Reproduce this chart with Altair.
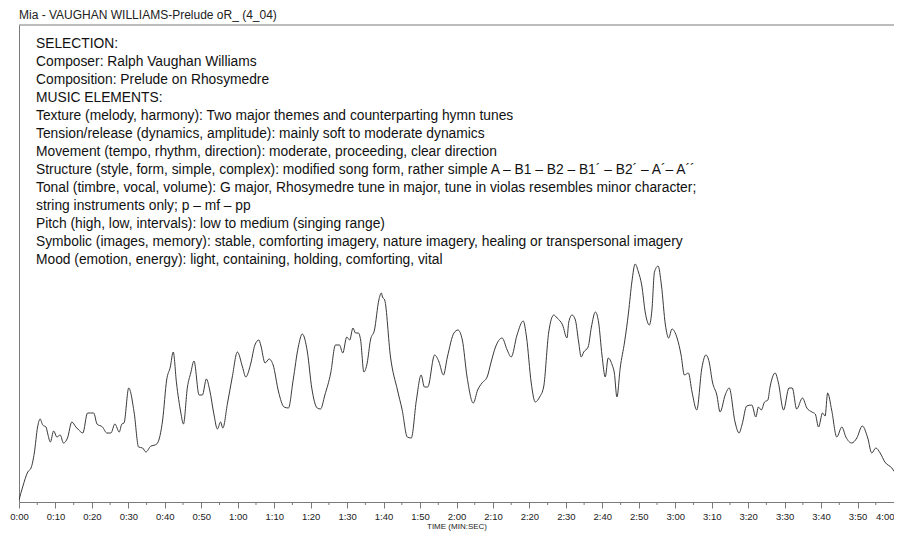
import altair as alt
import pandas as pd

# time in seconds
seconds = [0, 1.0, 2.4, 3.3, 4.2, 5.1, 5.8, 6.5, 7.4, 7.9,
           8.6, 9.5, 10.4, 11.3, 12.2, 13.3, 14.5, 15.6, 16.4, 17.5,
           18.8, 19.6, 20.5, 21.4, 22.9, 24.1, 25.2, 26.3, 27.5, 28.2,
           28.8, 30.1, 31.6, 32.8, 33.9, 34.8, 36.2, 37.3, 38.0, 39.4,
           40.5, 41.5, 42.3, 43.2, 44.4, 45.1, 46.2, 47.1, 48.0, 49.4,
           50.3, 51.4, 52.3, 53.5, 54.4, 55.3, 55.9, 57.2, 58.5, 59.9,
           61.3, 62.2, 63.6, 64.7, 65.8, 66.3, 67.5, 68.6, 69.7, 71.2,
           72.7, 73.9, 75.2, 76.6, 77.7, 79.1, 80.3, 81.8, 82.7, 83.9,
           85.5, 86.8, 87.9, 88.8, 89.9, 90.7, 91.6, 92.3, 93.1, 93.7,
           94.6, 95.5, 96.4, 97.5, 98.7, 99.4, 99.7, 100.3, 101.9, 103.8,
           105.1, 106.5, 107.6, 109.0, 110.3, 111.2, 112.1, 114.0, 115.2, 116.4,
           117.5, 119.3, 120.4, 121.6, 122.9, 124.6, 125.8, 127.0, 128.4, 129.5,
           130.7, 132.5, 133.9, 135.0, 136.6, 138.3, 139.2, 140.5, 141.6, 142.8,
           143.9, 145.3, 146.7, 147.6, 149.1, 150.3, 150.8, 151.7, 152.6, 153.5,
           154.2, 154.9, 156.1, 157.0, 158.1, 159.0, 159.9, 160.8, 161.6, 162.7,
           163.3, 164.0, 164.9, 166.1, 167.2, 168.1, 169.0, 169.9, 170.8, 171.8,
           172.9, 173.6, 174.3, 175.3, 176.2, 177.3, 178.2, 179.1, 180.5, 181.6,
           182.5, 183.6, 184.6, 185.9, 187.3, 188.4, 189.3, 190.2, 191.4, 192.3,
           193.7, 194.8, 196.4, 197.5, 198.3, 199.6, 201.0, 202.1, 202.8, 203.6,
           204.5, 205.4, 206.0, 207.4, 208.3, 209.7, 211.2, 212.1, 213.3, 214.9,
           216.1, 217.5, 218.4, 219.3, 220.4, 221.1, 221.8, 222.9, 224.3, 225.7,
           226.8, 228.4, 229.8, 231.3, 232.8, 233.9, 235.0, 236.2, 237.5, 239.4,
           242.1]

# relative level (amplitude) of the trace
level = [2, 15, 30, 34, 49, 75, 83, 77, 75, 68,
         60, 71, 65, 67, 59, 64, 80, 75, 72, 69,
         89, 89, 89, 78, 75, 69, 69, 78, 70, 78,
         79, 114, 89, 55, 54, 50, 56, 57, 59, 82,
         122, 135, 150, 119, 89, 78, 115, 129, 141, 107,
         107, 123, 112, 87, 73, 80, 74, 99, 125, 150,
         135, 125, 139, 157, 162, 157, 139, 143, 137, 110,
         95, 94, 122, 155, 168, 150, 114, 94, 93, 107,
         129, 157, 157, 149, 165, 162, 174, 169, 169, 162,
         130, 139, 162, 172, 202, 209, 205, 202, 145, 112,
         92, 65, 64, 102, 127, 115, 115, 147, 140, 127,
         145, 169, 172, 162, 125, 99, 112, 119, 125, 140,
         155, 164, 152, 145, 167, 181, 165, 119, 100, 105,
         115, 170, 187, 184, 177, 164, 180, 187, 182, 160,
         145, 150, 155, 175, 190, 179, 147, 125, 144, 137,
         129, 105, 134, 160, 190, 220, 238, 230, 217, 189,
         177, 192, 230, 236, 217, 177, 164, 173, 164, 147,
         127, 129, 110, 92, 134, 147, 140, 120, 107, 90,
         107, 114, 80, 69, 77, 96, 97, 85, 95, 92,
         100, 102, 115, 129, 119, 92, 114, 114, 93, 104,
         94, 90, 88, 75, 89, 86, 109, 92, 65, 75,
         65, 59, 64, 76, 64, 49, 54, 49, 40, 34,
         17]

assert len(seconds) == len(level)

tick_seconds = list(range(0, 241, 10))
minor_seconds = list(range(5, 240, 10))

title_text = "Mia - VAUGHAN WILLIAMS-Prelude oR_ (4_04)"
x_title = "TIME (MIN:SEC)"
notes = [
    "SELECTION:",
    "Composer: Ralph Vaughan Williams",
    "Composition: Prelude on Rhosymedre",
    "MUSIC ELEMENTS:",
    "Texture (melody, harmony): Two major themes and counterparting hymn tunes",
    "Tension/release (dynamics, amplitude): mainly soft to moderate dynamics",
    "Movement (tempo, rhythm, direction): moderate, proceeding, clear direction",
    "Structure (style, form, simple, complex): modified song form, rather simple A \u2013 B1 \u2013 B2 \u2013 B1\u00b4 \u2013 B2\u00b4 \u2013 A\u00b4\u2013 A\u00b4\u00b4",
    "Tonal (timbre, vocal, volume): G major, Rhosymedre tune in major, tune in violas resembles minor character;",
    "string instruments only; p \u2013 mf \u2013 pp",
    "Pitch (high, low, intervals): low to medium (singing range)",
    "Symbolic (images, memory): stable, comforting imagery, nature imagery, healing or transpersonal imagery",
    "Mood (emotion, energy): light, containing, holding, comforting, vital",
]

W, H = 875, 477
XMAX = 240
YMAX = 477
FONT = "Arial, Liberation Sans, sans-serif"
AXIS_GREY = "#7a7a7a"

df = pd.DataFrame({"t": seconds, "v": level})
xs = alt.Scale(domain=[0, XMAX], nice=False, zero=False)
ys = alt.Scale(domain=[0, YMAX], nice=False)

label_expr = ("floor(datum.value / 60) + ':' + (datum.value % 60 < 10 ? '0' : '') "
              "+ (datum.value % 60)")

x_axis = alt.Axis(
    values=tick_seconds, labelExpr=label_expr, title=x_title,
    grid=False, domainColor=AXIS_GREY, tickColor=AXIS_GREY, tickSize=6,
    labelFont=FONT, labelFontSize=9.5, labelColor="#222", labelPadding=3,
    labelFlush=False, labelOverlap=False, labelBound=False,
    labelAlign=alt.condition("datum.value >= 240", alt.value("right"), alt.value("center")),
    titleFont=FONT, titleFontSize=8, titleFontWeight="normal", titleColor="#222",
    titlePadding=2)

line = alt.Chart(df).mark_line(
    color="#3a3a3a", strokeWidth=1, clip=True, interpolate="monotone").encode(
    x=alt.X("t:Q", scale=xs, axis=x_axis),
    y=alt.Y("v:Q", scale=ys, axis=alt.Axis(
        labels=False, ticks=False, grid=False, title=None, domainColor=AXIS_GREY)),
)

minor = alt.Chart(pd.DataFrame({"t": minor_seconds})).mark_rule(
    color=AXIS_GREY, strokeWidth=1).encode(
    x=alt.X("t:Q", scale=xs, axis=x_axis),
    y=alt.value(H),
    y2=alt.value(H + 3),
)

border = alt.Chart(pd.DataFrame({"a": [0]})).mark_rule(
    color=AXIS_GREY, strokeWidth=1).encode(
    x=alt.value(0), x2=alt.value(W), y=alt.value(0))

text_block = alt.Chart(pd.DataFrame({"a": [0]})).mark_text(
    text=notes, align="left", baseline="top", font=FONT, fontSize=13.8,
    lineHeight=18, color="#111").encode(x=alt.value(17), y=alt.value(12))

chart = alt.layer(line, minor, border, text_block).properties(
    width=W, height=H,
    title=alt.TitleParams(text=title_text, anchor="start", frame="group",
                          font=FONT, fontSize=12, fontWeight="normal",
                          color="#222", offset=3),
    autosize=alt.AutoSizeParams(type="none"),
    padding={"left": 11, "top": 17, "right": 0, "bottom": 31},
    background="white",
).configure_view(stroke=None)

chart.save("out.html", embed_options={"renderer": "svg", "actions": False})
